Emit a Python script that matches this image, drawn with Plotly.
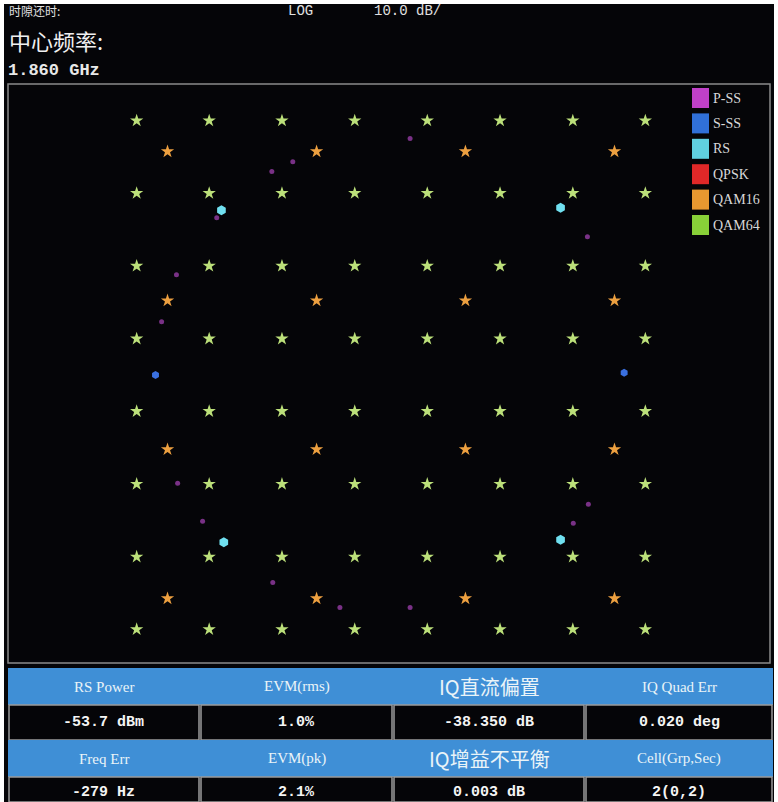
import itertools
import plotly.graph_objects as go

# ---- constellation data (normalised I/Q units) ----
qam64_levels = [-1.080, -0.772, -0.463, -0.154, 0.154, 0.463, 0.772, 1.080]
qam16_levels = [-0.949, -0.316, 0.316, 0.949]

rs_i = [-0.72, 0.72, -0.71, 0.72]
rs_q = [0.70, 0.71, -0.71, -0.70]

qpsk_i = [-0.72, 0.72, -0.71, 0.72]
qpsk_q = [0.70, 0.71, -0.71, -0.70]

sss_i = [-1.00, 0.99]
sss_q = [0.00, 0.01]

pss_i = [0.081, -0.417, -0.506, -0.740, -0.911, -0.974, -0.906, -0.800,
         -0.502, -0.217, 0.081, 0.774, 0.838, 0.834]
pss_q = [1.004, 0.906, 0.864, 0.668, 0.426, 0.226, -0.460, -0.621,
         -0.881, -0.987, -0.987, -0.630, -0.549, 0.587]

legend_names = ["P-SS", "S-SS", "RS", "QPSK", "QAM16", "QAM64"]
legend_colors = ["#c040c8", "#3070d8", "#60d0e0", "#e02828", "#e89830", "#88d038"]

# ---- measurement table ----
table_headers_1 = ["RS Power", "EVM(rms)", "IQ直流偏置", "IQ Quad Err"]
table_values_1 = ["-53.7 dBm", "1.0%", "-38.350 dB", "0.020 deg"]
table_headers_2 = ["Freq Err", "EVM(pk)", "IQ增益不平衡", "Cell(Grp,Sec)"]
table_values_2 = ["-279 Hz", "2.1%", "0.003 dB", "2(0,2)"]

W, H = 778, 802


def px(x):
    return x / W


def py(y):
    return 1 - y / H


qam64_pts = list(itertools.product(qam64_levels, qam64_levels))
qam16_pts = list(itertools.product(qam16_levels, qam16_levels))

fig = go.Figure()

fig.add_trace(go.Scatter(
    x=pss_i, y=pss_q, mode="markers", name="P-SS",
    marker=dict(color="#a040b0", size=5, opacity=0.75), hoverinfo="skip"))
fig.add_trace(go.Scatter(
    x=qpsk_i, y=qpsk_q, mode="markers", name="QPSK",
    marker=dict(color="#c02828", size=6), hoverinfo="skip"))
fig.add_trace(go.Scatter(
    x=[p[0] for p in qam64_pts], y=[p[1] for p in qam64_pts],
    mode="markers", name="QAM64",
    marker=dict(color="#bce07a", size=10, symbol="star", line=dict(width=0)),
    hoverinfo="skip"))
fig.add_trace(go.Scatter(
    x=[p[0] for p in qam16_pts], y=[p[1] for p in qam16_pts],
    mode="markers", name="QAM16",
    marker=dict(color="#eda040", size=10, symbol="star", line=dict(width=0)),
    hoverinfo="skip"))
fig.add_trace(go.Scatter(
    x=rs_i, y=rs_q, mode="markers", name="RS",
    marker=dict(color="#70e0f0", size=10, symbol="hexagon"), hoverinfo="skip"))
fig.add_trace(go.Scatter(
    x=sss_i, y=sss_q, mode="markers", name="S-SS",
    marker=dict(color="#3a70e0", size=8, symbol="hexagon"), hoverinfo="skip"))

# plot-area pixel geometry: centre (391, 375), 235.5 px per unit
plot_l, plot_r, plot_t, plot_b = 8, 770, 84, 663
cx, cy, scale = 391, 375, 235.5
x_range = [(plot_l - cx) / scale, (plot_r - cx) / scale]
y_range = [(cy - plot_b) / scale, (cy - plot_t) / scale]

shapes = []
annotations = []

# black instrument panel
shapes.append(dict(type="rect", xref="paper", yref="paper",
                   x0=px(4), x1=px(774), y0=py(802), y1=py(4),
                   fillcolor="#050508", line=dict(width=0), layer="below"))
# plot frame
shapes.append(dict(type="rect", xref="paper", yref="paper",
                   x0=px(plot_l), x1=px(plot_r), y0=py(plot_b), y1=py(plot_t),
                   fillcolor="rgba(0,0,0,0)", line=dict(color="#8a8a8a", width=1.5),
                   layer="above"))

# header texts
annotations.append(dict(text="时隙还时:", x=px(7), y=py(11), xref="paper", yref="paper",
                        xanchor="left", yanchor="middle", showarrow=False,
                        font=dict(family="Noto Sans CJK SC", size=12, color="#e0e0e0")))
annotations.append(dict(text="LOG", x=px(286), y=py(11), xref="paper", yref="paper",
                        xanchor="left", yanchor="middle", showarrow=False,
                        font=dict(family="Liberation Mono", size=14, color="#e0e0e0")))
annotations.append(dict(text="10.0 dB/", x=px(372), y=py(11), xref="paper", yref="paper",
                        xanchor="left", yanchor="middle", showarrow=False,
                        font=dict(family="Liberation Mono", size=14, color="#e0e0e0")))
annotations.append(dict(text="中心频率:", x=px(7), y=py(40), xref="paper", yref="paper",
                        xanchor="left", yanchor="middle", showarrow=False,
                        font=dict(family="Noto Sans CJK SC", size=22, color="#f0f0f0")))
annotations.append(dict(text="<b>1.860 GHz</b>", x=px(6), y=py(71), xref="paper", yref="paper",
                        xanchor="left", yanchor="middle", showarrow=False,
                        font=dict(family="Liberation Mono", size=17, color="#e8e8e8")))

# legend swatches
for k, (name, col) in enumerate(zip(legend_names, legend_colors)):
    yc = 98 + k * 25.4
    shapes.append(dict(type="rect", xref="paper", yref="paper",
                       x0=px(692), x1=px(709), y0=py(yc + 10), y1=py(yc - 10),
                       fillcolor=col, line=dict(width=0)))
    annotations.append(dict(text=name, x=px(711), y=py(yc), xref="paper", yref="paper",
                            xanchor="left", yanchor="middle", showarrow=False,
                            font=dict(family="Liberation Serif", size=14, color="#d8d8d8")))

# measurement table
col_edges = [8, 200, 393, 585, 773]
rows = [
    (668, 705, table_headers_1, True),
    (705, 740, table_values_1, False),
    (740, 777, table_headers_2, True),
    (777, 802, table_values_2, False),
]
for (y0, y1, texts, is_header) in rows:
    for c in range(4):
        x0, x1 = col_edges[c], col_edges[c + 1]
        if is_header:
            shapes.append(dict(type="rect", xref="paper", yref="paper",
                               x0=px(x0), x1=px(x1), y0=py(y1), y1=py(y0),
                               fillcolor="#3f8fd6", line=dict(width=0)))
        else:
            shapes.append(dict(type="rect", xref="paper", yref="paper",
                               x0=px(x0 + 1), x1=px(x1 - 1), y0=py(y1), y1=py(y0),
                               fillcolor="#050508", line=dict(color="#9a9a9a", width=1.5)))
        txt = texts[c]
        has_cjk = any(ord(ch) > 0x2e80 for ch in txt)
        if is_header:
            fnt = dict(family="Noto Sans CJK SC" if has_cjk else "Liberation Serif",
                       size=20 if has_cjk else 15, color="#eaf4f8")
            label = txt
        else:
            fnt = dict(family="Liberation Mono", size=15, color="#f4f4f4")
            label = "<b>" + txt + "</b>"
        yc = (y0 + y1) / 2 + (3 if y1 == 802 else 0)
        annotations.append(dict(text=label, x=px((x0 + x1) / 2), y=py(yc),
                                xref="paper", yref="paper", xanchor="center",
                                yanchor="middle", showarrow=False, font=fnt))

fig.update_layout(
    width=W, height=H,
    margin=dict(l=0, r=0, t=0, b=0),
    paper_bgcolor="#ffffff",
    plot_bgcolor="#040408",
    showlegend=False,
    shapes=shapes,
    annotations=annotations,
    xaxis=dict(domain=[px(plot_l), px(plot_r)], range=x_range, visible=False,
               showgrid=False, zeroline=False, fixedrange=True),
    yaxis=dict(domain=[py(plot_b), py(plot_t)], range=y_range, visible=False,
               showgrid=False, zeroline=False, fixedrange=True),
)

fig.write_html("out.html")
